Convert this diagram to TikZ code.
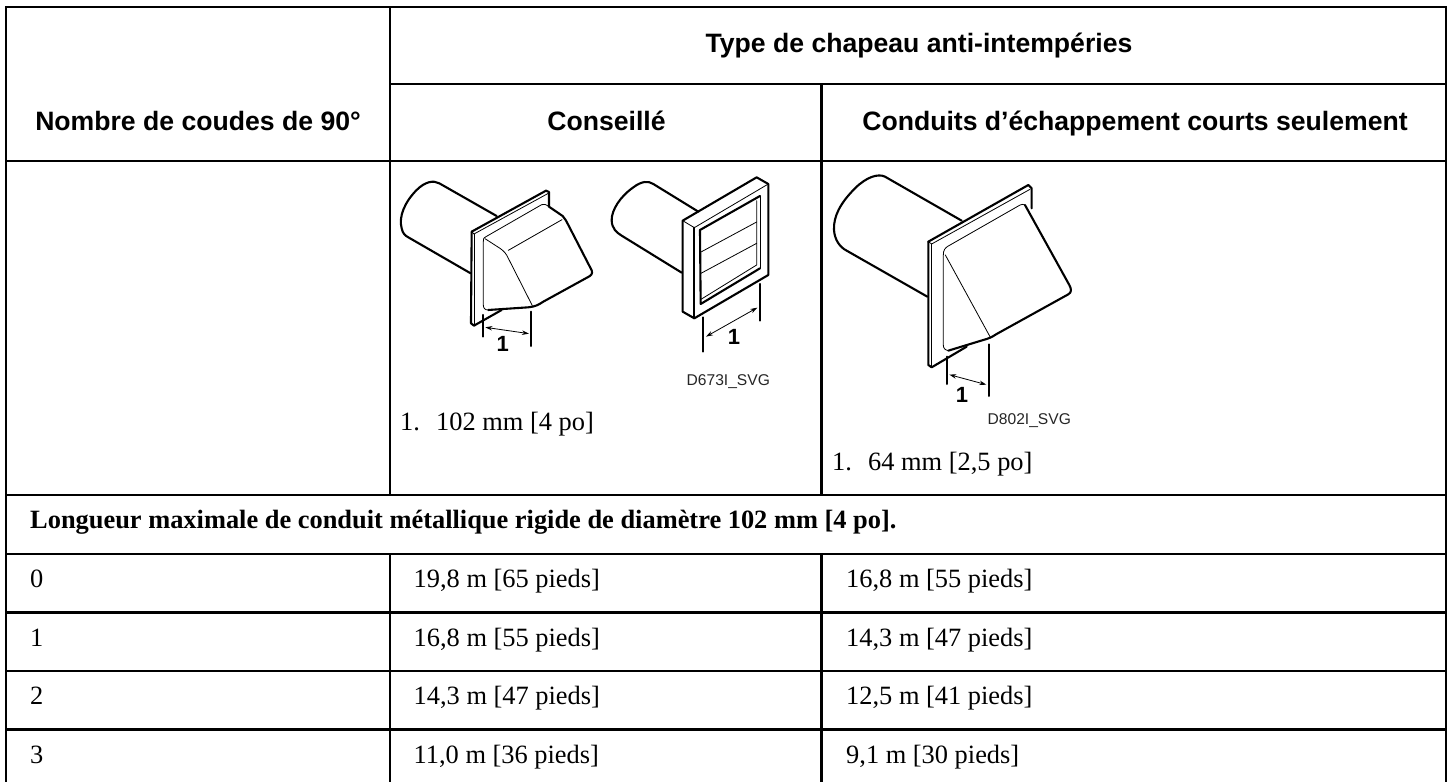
\documentclass[tikz,border=0pt]{standalone}
\usepackage{fontspec}
\setmainfont{Liberation Serif}
\newfontfamily\arialf{Liberation Sans}
\usetikzlibrary{arrows.meta}
\tikzset{
 rule/.style={line width=2.3pt,black},
 head/.style={font=\arialf\bfseries\fontsize{26.6}{30}\selectfont,inner sep=0pt,anchor=base},
 cell/.style={font=\fontsize{26.4}{30}\selectfont,anchor=base west,inner sep=0pt},
 cellb/.style={font=\bfseries\fontsize{26.4}{30}\selectfont,anchor=base west,inner sep=0pt},
 code/.style={font=\arialf\fontsize{15.6}{18}\selectfont,inner sep=0pt,text=black!85},
 num/.style={font=\arialf\bfseries\fontsize{22}{24}\selectfont,inner sep=0pt},
 thick line/.style={line width=2.1pt,line join=round,line cap=round},
 thin line/.style={line width=0.8pt,line join=round,line cap=round},
 dim/.style={line width=0.8pt,{Stealth[length=7pt,width=4.5pt]}-{Stealth[length=7pt,width=4.5pt]}},
 zoomA/.style={shift={(400,160)},x=0.3333pt,y=-0.3333pt},
 zoomB/.style={shift={(600,160)},x=0.3333pt,y=-0.3333pt},
 zoomC/.style={shift={(820,160)},x=0.3333pt,y=-0.3333pt},
}
\begin{document}
\begin{tikzpicture}[x=1pt,y=-1pt]
\useasboundingbox (0,0) rectangle (1449,782);
\fill[white] (0,0) rectangle (1449,782);
% table rules
\draw[rule] (6,790) -- (6,7) -- (1446,7) -- (1446,790);
\draw[rule] (390,7) -- (390,495);
\draw[rule] (390,554) -- (390,790);
\draw[rule] (821.5,84) -- (821.5,495);
\draw[rule] (821.5,554) -- (821.5,790);
\draw[rule] (390,84) -- (1446,84);
\draw[rule] (6,161) -- (1446,161);
\draw[rule] (6,495) -- (1446,495);
\draw[rule] (6,554) -- (1446,554);
\draw[rule] (6,612.5) -- (1446,612.5);
\draw[rule] (6,671) -- (1446,671);
\draw[rule] (6,729.5) -- (1446,729.5);
% headers
\node[head] (h1) at (919,52.5) {Type de chapeau anti-intempéries};
\node[head] (h2) at (198,130) {Nombre de coudes de 90°};
\node[head] (h3) at (606.5,130) {Conseillé};
\node[head] (h4) at (1135,130) {Conduits d’échappement courts seulement};
% notes
\node[cell] (n1) at (400,430) {1.};
\node[cell] (n1t) at (436,430) {102 mm [4 po]};
\node[cell] (n2) at (832,470) {1.};
\node[cell] (n2t) at (868,470) {64 mm [2,5 po]};
\node[cellb] (span) at (30,528) {Longueur maximale de conduit métallique rigide de diamètre 102 mm [4 po].};
% rows
\node[cell] (a0) at (30,587.5) {0};
\node[cell] (b0) at (413.5,587.5) {19,8 m [65 pieds]};
\node[cell] (c0) at (846,587.5) {16,8 m [55 pieds]};
\node[cell] (a1) at (30,646) {1};
\node[cell] (b1) at (413.5,646) {16,8 m [55 pieds]};
\node[cell] (c1) at (846,646) {14,3 m [47 pieds]};
\node[cell] (a2) at (30,704.5) {2};
\node[cell] (b2) at (413.5,704.5) {14,3 m [47 pieds]};
\node[cell] (c2) at (846,704.5) {12,5 m [41 pieds]};
\node[cell] (a3) at (30,763) {3};
\node[cell] (b3) at (413.5,763) {11,0 m [36 pieds]};
\node[cell] (c3) at (846,763) {9,1 m [30 pieds]};
% hood 1
\begin{scope}[zoomA]
\draw[thick line] (290,168) -- (118,70) .. controls (100,60) and (75,65) .. (50,90) .. controls (15,125) and (-5,170) .. (5,205) .. controls (8,220) and (15,227) .. (25,232) -- (212,340);
\draw[thick line] (215,215) -- (438,92) -- (447,96) -- (447,140);
\draw[thick line] (215,215) -- (213,490) -- (222,497) -- (305,450);
\draw[thin line] (215,215) -- (222,222) -- (445,100);
\draw[thin line] (222,222) -- (222,497);
\draw[thick line] (447,140) -- (488,168) .. controls (495,175) and (500,185) .. (505,195) -- (572,325) .. controls (578,335) and (578,342) .. (570,348) -- (430,425) .. controls (415,435) and (405,440) .. (385,442) -- (265,450);
\draw[thin line] (265,450) .. controls (255,450) and (250,445) .. (250,435) -- (250,245) .. controls (250,235) and (252,232) .. (258,230) -- (425,134) .. controls (432,130) and (438,134) .. (447,140);
\draw[thin line] (255,236) -- (300,265) .. controls (312,273) and (320,283) .. (325,295) -- (397,437);
\draw[thin line] (325,271) -- (486,179);
\draw[thick line] (248,465) -- (248,530);
\draw[thick line] (393,455) -- (393,558);
\draw[dim] (256,502) -- (387,521);
\node[num] (numA) at (308,552) {1};
\end{scope}
% louvre
\begin{scope}[zoomB]
\draw[thick line] (295,155) -- (160,72) .. controls (145,62) and (125,63) .. (100,82) .. controls (60,110) and (35,150) .. (35,180) .. controls (35,205) and (50,218) .. (65,227) -- (245,338);
\draw[thick line] (248,182) -- (470,52) -- (505,72) -- (505,345) -- (283,475) -- (248,455) -- cycle;
\draw[thin line] (248,182) -- (283,203) -- (505,72);
\draw[thick line] (283,203) -- (283,475);
\draw[thick line] (300,210) -- (480,108);
\draw[thick line] (300,210) -- (302,432) -- (480,325);
\draw[thin line] (480,108) -- (480,325);
\draw[thin line] (470,122) -- (470,315) -- (303,418);
\draw[thin line] (303,276) -- (470,186);
\draw[thin line] (303,340) -- (470,250);
\draw[thick line] (310,472) -- (310,575);
\draw[thick line] (480,372) -- (480,482);
\draw[dim] (318,530) -- (472,443);
\node[num] (numB) at (402,530) {1};
\node[code] (codeB) at (385,665) {D673I\_SVG};
\end{scope}
% hood 2
\begin{scope}[zoomC]
\draw[thick line] (425,182) -- (195,50) .. controls (175,40) and (140,50) .. (105,85) .. controls (60,130) and (40,170) .. (42,210) .. controls (44,240) and (60,262) .. (80,272) -- (322,410);
\draw[thick line] (325,245) -- (625,75) -- (635,85) -- (635,145);
\draw[thick line] (325,245) -- (325,615) -- (335,622) -- (440,560);
\draw[thin line] (325,245) -- (335,252) -- (630,88);
\draw[thin line] (335,252) -- (335,622);
\draw[thick line] (615,135) -- (748,375) .. controls (755,388) and (755,397) .. (745,403) -- (530,522) .. controls (515,532) and (505,536) .. (490,540) -- (385,572);
\draw[thin line] (385,572) .. controls (375,570) and (370,565) .. (370,555) -- (370,285) .. controls (370,270) and (375,264) .. (385,258) -- (595,138) .. controls (605,132) and (612,132) .. (615,135);
\draw[thin line] (376,285) -- (510,530);
\draw[thick line] (380,590) -- (380,672);
\draw[thick line] (508,553) -- (508,708);
\draw[dim] (388,644) -- (499,674);
\node[num] (numC) at (426,705) {1};
\node[code] (codeC) at (628,783) {D802I\_SVG};
\end{scope}
\end{tikzpicture}
\end{document}
